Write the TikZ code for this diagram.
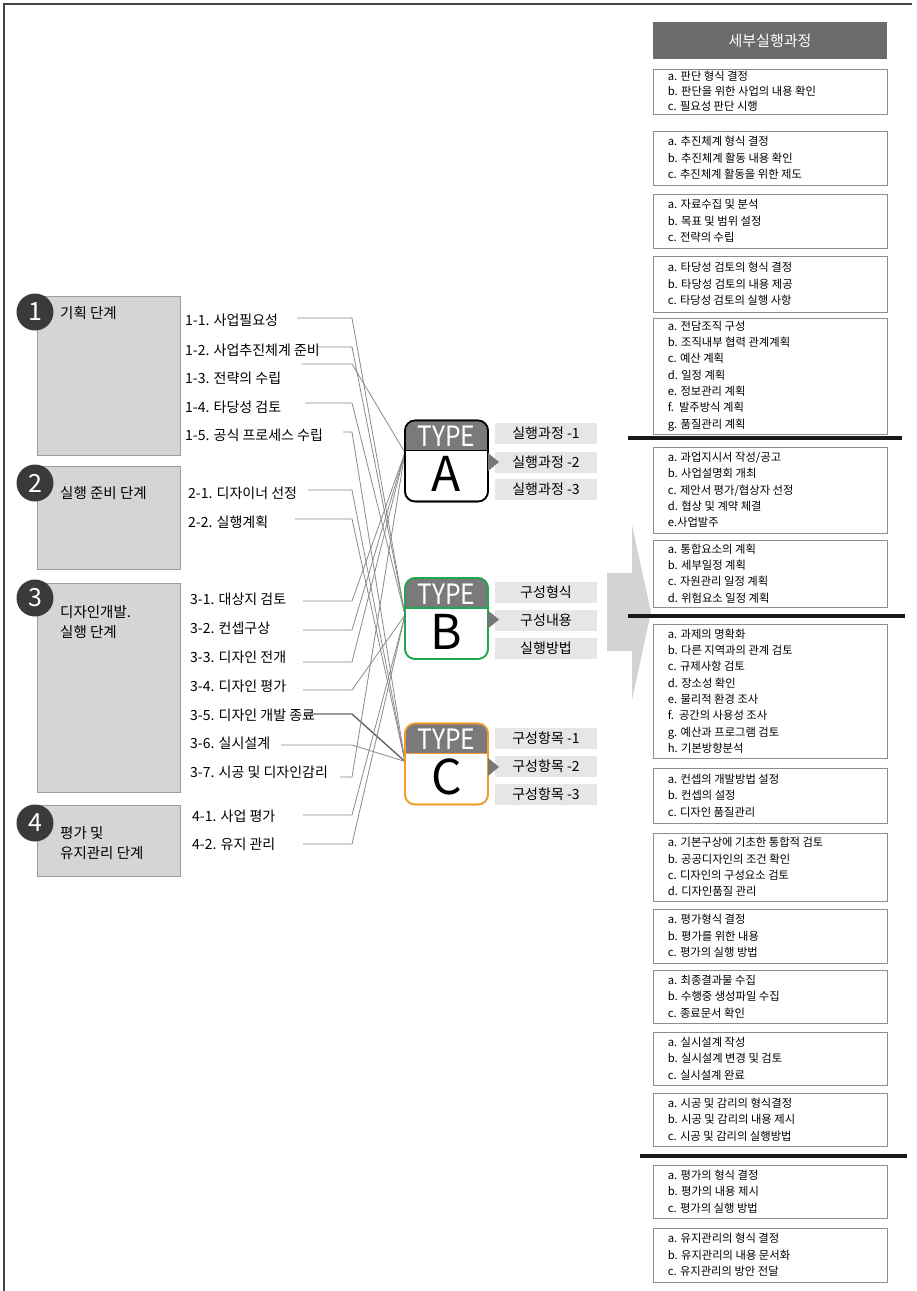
\documentclass[tikz,border=0pt]{standalone}
\usepackage{fontspec}
\setmainfont{Noto Sans CJK KR}
\usetikzlibrary{calc}
\definecolor{phasefill}{HTML}{D5D5D7}
\definecolor{phaseline}{HTML}{9C9C9C}
\definecolor{circfill}{HTML}{3A3A3A}
\definecolor{conngray}{HTML}{8A8A8A}
\definecolor{conndark}{HTML}{666666}
\definecolor{typehdr}{HTML}{7A7A7A}
\definecolor{typegreen}{HTML}{1FA84F}
\definecolor{typeorange}{HTML}{F39C2C}
\definecolor{labelfill}{HTML}{E6E6E6}
\definecolor{ptrgray}{HTML}{777777}
\definecolor{arrowgray}{HTML}{D3D3D5}
\definecolor{hdrgray}{HTML}{6B6B6B}
\definecolor{rline}{HTML}{8C8C8C}
\definecolor{framec}{HTML}{444444}

\newcommand{\mylink}[5]{%
  \path (#1.east) ++(0,#2) coordinate (#1-y) (#3,0) coordinate (#1-x);
  \draw[#5] (#1-y -| #1-x) -- (#1-y -| jx) -- (#4);}

\newcommand{\mktype}[4]{%
  \node[typebox, draw=#3] (#1) at (#2) {};
  \begin{scope}
    \clip[rounded corners=10pt] (#1.north west) rectangle (#1.south east);
    \fill[typehdr] (#1.north west) rectangle ([yshift=-30pt]#1.north east);
  \end{scope}
  \draw[rounded corners=10pt, line width=1.6pt, #3] (#1.north west) rectangle (#1.south east);
  \draw[line width=1.6pt, #3] ([yshift=-30pt]#1.north west) -- ([yshift=-30pt]#1.north east);
  \node[typetxt] (#1h) at ([yshift=-26pt]#1.north) {\scalebox{0.88}[1]{TYPE}};
  \node[letter] (#1l) at ([yshift=-71pt]#1.north) {#4};}

\begin{document}
\begin{tikzpicture}[x=1pt,y=-1pt,
  phasebox/.style={draw=phaseline, fill=phasefill, line width=1.2pt, anchor=north west, minimum width=143pt, inner sep=0pt},
  numcirc/.style={circle, fill=circfill, text=white, minimum size=37pt, inner sep=0pt, font=\fontsize{25}{25}\selectfont},
  ptitle/.style={anchor=west, inner sep=0pt, align=left, font=\fontsize{14.5}{20}\selectfont},
  item/.style={anchor=west, inner sep=0pt, font=\fontsize{14}{16}\selectfont},
  conn/.style={draw=conngray, line width=0.8pt},
  connbold/.style={draw=conndark, line width=1.4pt},
  typebox/.style={rounded corners=10pt, line width=1.6pt, minimum width=83pt, minimum height=81pt, fill=white, outer sep=0pt, inner sep=0pt},
  typetxt/.style={anchor=base, text=white, inner sep=0pt, font=\fontsize{28}{28}\selectfont},
  letter/.style={anchor=base, inner sep=0pt, font=\fontsize{48}{48}\selectfont},
  lbar/.style={fill=labelfill, minimum width=102pt, minimum height=21pt, inner sep=0pt, font=\fontsize{14}{16}\selectfont},
  rbox/.style={draw=rline, line width=0.9pt, fill=white, minimum width=234pt, inner sep=0pt},
  rtext/.style={anchor=west, inner sep=0pt, align=left, font=\fontsize{11.3}{16.3}\selectfont},
  sepline/.style={line width=3.6pt, draw=black!90}
]
\useasboundingbox (0,0) rectangle (917,1291);
\fill[white] (0,0) rectangle (917,1291);
\draw[framec, line width=1.2pt] (4,1291) -- (4,4) -- (912,4);

% ---------- phases ----------
\node[phasebox, minimum height=159pt] (p1) at (37,296) {};
\node[phasebox, minimum height=103pt] (p2) at (37,466) {};
\node[phasebox, minimum height=209pt] (p3) at (37,583) {};
\node[phasebox, minimum height=71pt] (p4) at (37,805) {};

\node[numcirc] (c1) at (35,312) {1};
\node[numcirc] (c2) at (35,483) {2};
\node[numcirc] (c3) at (35,598) {3};
\node[numcirc] (c4) at (35,823) {4};

\node[ptitle] (t1) at (60,313) {기획 단계};
\node[ptitle] (t2) at (60,493) {실행 준비 단계};
\node[ptitle] (t3) at (60,622) {디자인개발.\\실행 단계};
\node[ptitle] (t4) at (60,843) {평가 및\\유지관리 단계};

% ---------- items ----------
\node[item] (i11) at (185,320) {1-1. 사업필요성};
\node[item] (i12) at (185,350) {1-2. 사업추진체계 준비};
\node[item] (i13) at (185,378) {1-3. 전략의 수립};
\node[item] (i14) at (185,407) {1-4. 타당성 검토};
\node[item] (i15) at (185,435) {1-5. 공식 프로세스 수립};
\node[item] (i21) at (188,493) {2-1. 디자이너 선정};
\node[item] (i22) at (188,522) {2-2. 실행계획};
\node[item] (i31) at (190,599) {3-1. 대상지 검토};
\node[item] (i32) at (190,628) {3-2. 컨셉구상};
\node[item] (i33) at (190,657) {3-3. 디자인 전개};
\node[item] (i34) at (190,686) {3-4. 디자인 평가};
\node[item] (i35) at (190,715) {3-5. 디자인 개발 종료};
\node[item] (i36) at (190,743) {3-6. 실시설계};
\node[item] (i37) at (190,772) {3-7. 시공 및 디자인감리};
\node[item] (i41) at (192,816) {4-1. 사업 평가};
\node[item] (i42) at (192,844) {4-2. 유지 관리};

% ---------- type box anchors ----------
\coordinate (jx) at (352,0);
\node[typebox, draw=none, fill=none] (tApos) at (446.5,461) {};
\node[typebox, draw=none, fill=none] (tBpos) at (446.5,618.5) {};
\node[typebox, draw=none, fill=none] (tCpos) at (446.5,764) {};
\path ([yshift=-32pt]tApos.north west) coordinate (inA);
\path ([yshift=-37pt]tBpos.north west) coordinate (inB);
\path ([yshift=-38pt]tCpos.north west) coordinate (inC);

% ---------- connectors ----------
\mylink{i11}{-2}{297}{inB}{conn}
\mylink{i12}{-3}{318}{inB}{conn}
\mylink{i13}{-14}{302}{inA}{conn}
\mylink{i14}{-4}{305}{inB}{conn}
\mylink{i15}{-3}{343}{inC}{conn}
\mylink{i21}{-3}{308}{inC}{conn}
\mylink{i22}{-3}{295}{inC}{conn}
\mylink{i31}{2}{303}{inA}{conn}
\mylink{i32}{2}{303}{inA}{conn}
\mylink{i33}{5}{303}{inA}{conn}
\mylink{i34}{4}{303}{inB}{conn}
\mylink{i35}{-1}{306}{inC}{connbold}
\mylink{i36}{2}{281}{inC}{conn}
\mylink{i37}{5}{340}{inA}{conn}
\mylink{i41}{-1}{303}{inB}{conn}
\mylink{i42}{0}{303}{inB}{conn}

\mktype{tA}{446.5,461}{black}{A}
\mktype{tB}{446.5,618.5}{typegreen}{B}
\mktype{tC}{446.5,764}{typeorange}{C}

% ---------- label bars ----------
\node[lbar] (la1) at (546,433) {실행과정 -1};
\node[lbar] (la2) at (546,462) {실행과정 -2};
\node[lbar] (la3) at (546,489) {실행과정 -3};
\node[lbar] (lb1) at (546,592) {구성형식};
\node[lbar] (lb2) at (546,620) {구성내용};
\node[lbar] (lb3) at (546,648) {실행방법};
\node[lbar] (lc1) at (546,738) {구성항목 -1};
\node[lbar] (lc2) at (546,766) {구성항목 -2};
\node[lbar] (lc3) at (546,794) {구성항목 -3};
\fill[ptrgray] (tA.east) ++(0,-8) -- ++(11,9) -- ++(-11,9) -- cycle;
\fill[ptrgray] (tB.east) ++(0,-8) -- ++(11,9) -- ++(-11,9) -- cycle;
\fill[ptrgray] (tC.east) ++(0,-6) -- ++(11,9) -- ++(-11,9) -- cycle;

% ---------- big arrow ----------
\fill[arrowgray] (607,573) -- (632,573) -- (632,525) -- (651,612) -- (632,700) -- (632,651) -- (607,651) -- cycle;

% ---------- right column ----------
\node[fill=hdrgray, minimum width=234pt, minimum height=37pt, inner sep=0pt, text=white, font=\fontsize{15}{15}\selectfont] (hdr) at (770,40.5) {세부실행과정};

\node[rbox, minimum height=45pt] (r1) at (770,91.5) {};
\node[rtext, font=\fontsize{11.3}{15.2}\selectfont] (r1t) at ([xshift=15pt]r1.west) {a. 판단 형식 결정\\b. 판단을 위한 사업의 내용 확인\\c. 필요성 판단 시행};
\node[rbox, minimum height=54pt] (r2) at (770,158) {};
\node[rtext] (r2t) at ([xshift=15pt]r2.west) {a. 추진체계 형식 결정\\b. 추진체계 활동 내용 확인\\c. 추진체계 활동을 위한 제도};
\node[rbox, minimum height=54pt] (r3) at (770,221) {};
\node[rtext] (r3t) at ([xshift=15pt]r3.west) {a. 자료수집 및 분석\\b. 목표 및 범위 설정\\c. 전략의 수립};
\node[rbox, minimum height=56pt] (r4) at (770,284) {};
\node[rtext] (r4t) at ([xshift=15pt]r4.west) {a. 타당성 검토의 형식 결정\\b. 타당성 검토의 내용 제공\\c. 타당성 검토의 실행 사항};
\node[rbox, minimum height=116pt] (r5) at (770,376) {};
\node[rtext] (r5t) at ([xshift=15pt]r5.west) {a. 전담조직 구성\\b. 조직내부 협력 관계계획\\c. 예산 계획\\d. 일정 계획\\e. 정보관리 계획\\f.\ \ 발주방식 계획\\g. 품질관리 계획};
\draw[sepline] (628,438) -- (902,438);
\node[rbox, minimum height=86pt] (r6) at (770,490) {};
\node[rtext] (r6t) at ([xshift=15pt]r6.west) {a. 과업지시서 작성/공고\\b. 사업설명회 개최\\c. 제안서 평가/협상자 선정\\d. 협상 및 계약 체결\\e.사업발주};
\node[rbox, minimum height=67pt] (r7) at (770,573.5) {};
\node[rtext] (r7t) at ([xshift=15pt]r7.west) {a. 통합요소의 계획\\b. 세부일정 계획\\c. 자원관리 일정 계획\\d. 위험요소 일정 계획};
\draw[sepline] (628,616) -- (905,616);
\node[rbox, minimum height=134pt] (r8) at (770,691) {};
\node[rtext] (r8t) at ([xshift=15pt]r8.west) {a. 과제의 명확화\\b. 다른 지역과의 관계 검토\\c. 규제사항 검토\\d. 장소성 확인\\e. 물리적 환경 조사\\f.\ \ 공간의 사용성 조사\\g. 예산과 프로그램 검토\\h. 기본방향분석};
\node[rbox, minimum height=55pt] (r9) at (770,795.5) {};
\node[rtext] (r9t) at ([xshift=15pt]r9.west) {a. 컨셉의 개발방법 설정\\b. 컨셉의 설정\\c. 디자인 품질관리};
\node[rbox, minimum height=68pt] (r10) at (770,867) {};
\node[rtext] (r10t) at ([xshift=15pt]r10.west) {a. 기본구상에 기초한 통합적 검토\\b. 공공디자인의 조건 확인\\c. 디자인의 구성요소 검토\\d. 디자인품질 관리};
\node[rbox, minimum height=54pt] (r11) at (770,936) {};
\node[rtext] (r11t) at ([xshift=15pt]r11.west) {a. 평가형식 결정\\b. 평가를 위한 내용\\c. 평가의 실행 방법};
\node[rbox, minimum height=53pt] (r12) at (770,996.5) {};
\node[rtext] (r12t) at ([xshift=15pt]r12.west) {a. 최종결과물 수집\\b. 수행중 생성파일 수집\\c. 종료문서 확인};
\node[rbox, minimum height=53pt] (r13) at (770,1058.5) {};
\node[rtext] (r13t) at ([xshift=15pt]r13.west) {a. 실시설계 작성\\b. 실시설계 변경 및 검토\\c. 실시설계 완료};
\node[rbox, minimum height=53pt] (r14) at (770,1119.5) {};
\node[rtext] (r14t) at ([xshift=15pt]r14.west) {a. 시공 및 감리의 형식결정\\b. 시공 및 감리의 내용 제시\\c. 시공 및 감리의 실행방법};
\draw[sepline] (640,1156) -- (907,1156);
\node[rbox, minimum height=53pt] (r15) at (770,1191.5) {};
\node[rtext] (r15t) at ([xshift=15pt]r15.west) {a. 평가의 형식 결정\\b. 평가의 내용 제시\\c. 평가의 실행 방법};
\node[rbox, minimum height=54pt] (r16) at (770,1255) {};
\node[rtext] (r16t) at ([xshift=15pt]r16.west) {a. 유지관리의 형식 결정\\b. 유지관리의 내용 문서화\\c. 유지관리의 방안 전달};
\end{tikzpicture}
\end{document}
